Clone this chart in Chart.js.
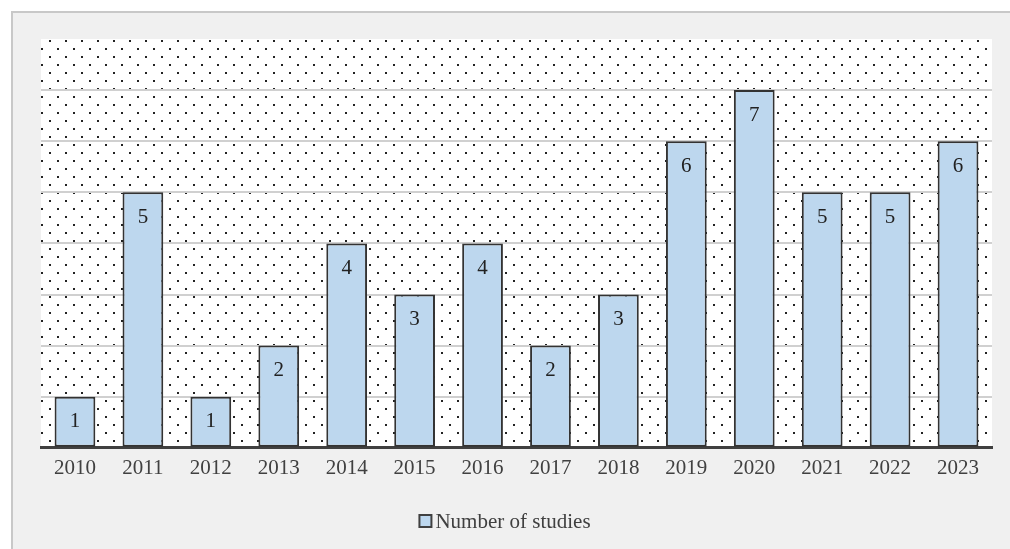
<!DOCTYPE html>
<html lang="en">
  <head>
    <meta charset="UTF-8" />
    <title>Number of studies</title>
    <script src="https://cdn.jsdelivr.net/npm/chart.js"></script>
    <style>
      body { margin: 0; background: #fff; width: 1010px; height: 549px; overflow: hidden; position: relative; }
      .frame { position: absolute; left: 11px; top: 11px; width: 1100px; height: 700px; border: 2px solid #c8c8c8; background: #f0f0f0; }
      #chart { position: absolute; left: 0; top: 0; }
    </style>
  </head>
  <body>
    <div class="frame"></div>
    <canvas id="chart" width="1010" height="549"></canvas>

    <script>
      const years = ["2010", "2011", "2012", "2013", "2014", "2015", "2016",
                     "2017", "2018", "2019", "2020", "2021", "2022", "2023"];
      const studies = [1, 5, 1, 2, 4, 3, 4, 2, 3, 6, 7, 5, 5, 6];
      const seriesName = "Number of studies";

      const barFill = "#bdd7ee";
      const ink = "#404040";
      const serif = "'Liberation Serif', 'Times New Roman', serif";

      // dotted fill behind the plot area
      function dotPattern(ctx) {
        const tile = document.createElement("canvas");
        tile.width = 16;
        tile.height = 16;
        const t = tile.getContext("2d");
        t.fillStyle = "#fff";
        t.fillRect(0, 0, 16, 16);
        t.fillStyle = "#222";
        t.fillRect(1, 8, 2, 2);
        t.fillRect(9, 0, 2, 2);
        return ctx.createPattern(tile, "repeat");
      }

      const plotBackground = {
        id: "plotBackground",
        beforeDraw(chart) {
          const { ctx, chartArea: a } = chart;
          ctx.save();
          ctx.fillStyle = dotPattern(ctx);
          ctx.fillRect(a.left, a.top, a.right - a.left, a.bottom - a.top);
          ctx.restore();
        },
      };

      const valueLabels = {
        id: "valueLabels",
        afterDatasetsDraw(chart) {
          const { ctx } = chart;
          const meta = chart.getDatasetMeta(0);
          ctx.save();
          ctx.font = "21px " + serif;
          ctx.fillStyle = "#222";
          ctx.textAlign = "center";
          ctx.textBaseline = "middle";
          meta.data.forEach((bar, i) => {
            ctx.fillText(String(studies[i]), bar.x, bar.y + 25);
          });
          ctx.restore();
        },
      };

      const bottomLegend = {
        id: "bottomLegend",
        afterDraw(chart) {
          const { ctx } = chart;
          ctx.save();
          ctx.font = "21px " + serif;
          const tw = ctx.measureText(seriesName).width;
          const box = 12, gap = 4;
          const total = box + gap + tw;
          const x0 = (chart.width - total) / 2;
          const cy = 521;
          ctx.fillStyle = barFill;
          ctx.fillRect(x0, cy - box / 2, box, box);
          ctx.strokeStyle = ink;
          ctx.lineWidth = 2;
          ctx.strokeRect(x0, cy - box / 2, box, box);
          ctx.fillStyle = ink;
          ctx.textBaseline = "middle";
          ctx.fillText(seriesName, x0 + box + gap, cy + 1);
          ctx.restore();
        },
      };

      new Chart(document.getElementById("chart"), {
        type: "bar",
        data: {
          labels: years,
          datasets: [
            {
              label: seriesName,
              data: studies,
              backgroundColor: barFill,
              borderColor: "#333",
              borderWidth: 2,
              borderSkipped: false,
              barPercentage: 0.6,
              categoryPercentage: 1,
            },
          ],
        },
        options: {
          responsive: false,
          animation: false,
          layout: { padding: { left: 41, right: 18, top: 39, bottom: 68 } },
          plugins: {
            legend: { display: false },
            tooltip: { enabled: false },
          },
          scales: {
            x: {
              grid: { display: false },
              border: { display: true, color: ink, width: 3 },
              ticks: { color: ink, font: { family: serif, size: 21 }, padding: 0 },
            },
            y: {
              min: 0,
              max: 8,
              ticks: { display: false, stepSize: 1 },
              grid: {
                drawTicks: false,
                lineWidth: 2,
                color: (c) => (c.tick && c.tick.value === 8 ? "rgba(0,0,0,0)" : "#d0d0d0"),
              },
              border: { display: false },
            },
          },
        },
        plugins: [plotBackground, valueLabels, bottomLegend],
      });
    </script>
  </body>
</html>
